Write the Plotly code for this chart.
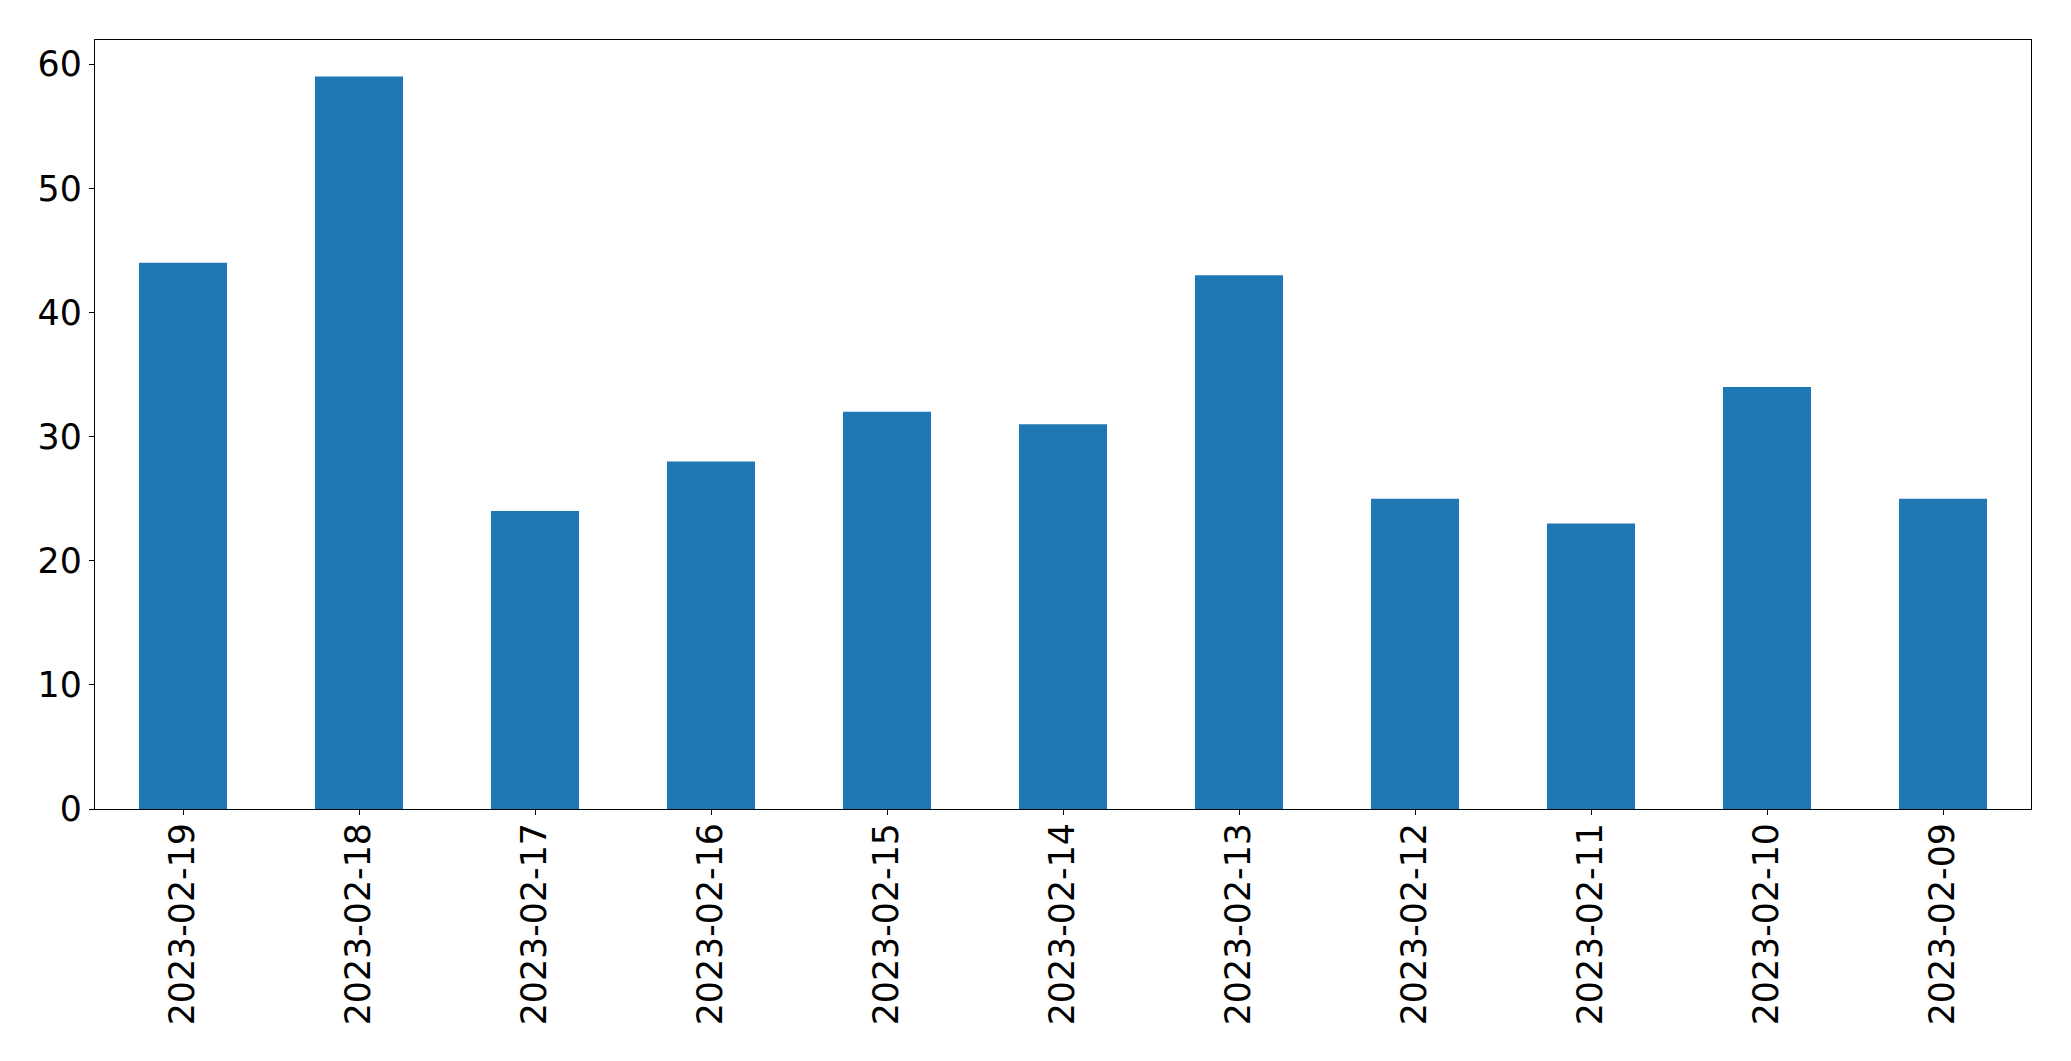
import plotly.graph_objects as go

dates = ["2023-02-19", "2023-02-18", "2023-02-17", "2023-02-16", "2023-02-15",
         "2023-02-14", "2023-02-13", "2023-02-12", "2023-02-11", "2023-02-10", "2023-02-09"]
counts = [44, 59, 24, 28, 32, 31, 43, 25, 23, 34, 25]
y_ticks = [0, 10, 20, 30, 40, 50, 60]

fig = go.Figure(go.Bar(x=dates, y=counts, width=0.5, marker_color="#1f77b4",
                       marker_line_width=0))

W, H = 2071, 1061
L, R, T, B = 94.5, 2031.5, 39.5, 809
fig.update_layout(
    template="none",
    width=W, height=H,
    margin=dict(l=L, r=W - R, t=T, b=H - B, pad=0, autoexpand=False),
    plot_bgcolor="white", paper_bgcolor="white",
    font=dict(family="DejaVu Sans", size=34.8, color="black"),
    showlegend=False,
)
fig.update_xaxes(type="category", range=[-0.5, len(dates) - 0.5], automargin=False,
                 tickangle=-90, ticks="outside", ticklen=5, tickwidth=1.3, tickcolor="black",
                 ticklabelstandoff=-6,
                 showline=True, linecolor="black", linewidth=1.3, mirror=True,
                 showgrid=False, zeroline=False)
fig.update_yaxes(range=[0, 61.95], tickvals=y_ticks, automargin=False,
                 ticks="outside", ticklen=5, tickwidth=1.3,
                 tickcolor="black", showline=True, linecolor="black", linewidth=1.3, mirror=True,
                 showgrid=False, zeroline=False)
fig.write_html("out.html", config={"displayModeBar": False},
               post_script="document.body.style.margin='0';document.body.style.overflow='hidden';")
